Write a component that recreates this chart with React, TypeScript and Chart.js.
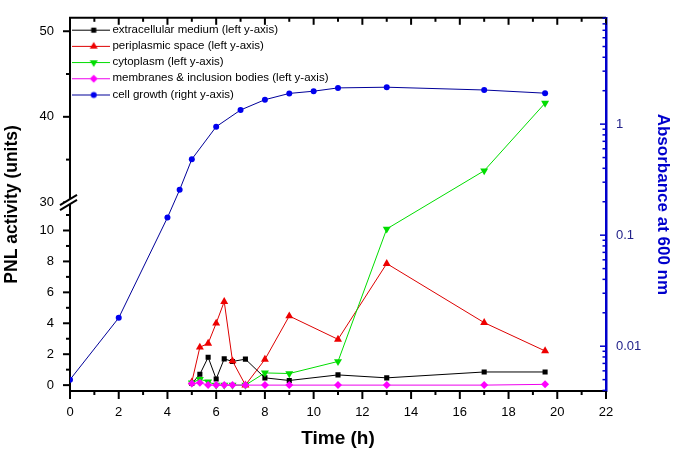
import { useEffect, useRef } from "react"
import { Chart, registerables, LinearScale } from "chart.js"
import { drawPoint } from "chart.js/helpers"

// ── data ─────────────────────────────────────────────────────
const FRACTION_TIME = [5, 5.33, 5.67, 6, 6.33, 6.67, 7.2, 8, 9, 11, 13, 17, 19.5]
const EXTRACELLULAR = [0.1, 0.7, 1.8, 0.4, 1.7, 1.53, 1.68, 0.47, 0.3, 0.66, 0.47, 0.85, 0.85]
const PERIPLASMIC = [0.2, 2.45, 2.7, 4.0, 5.4, 1.56, 0, 1.66, 4.47, 2.96, 7.86, 4.04, 2.21]
const CYTOPLASM = [0.15, 0.38, 0.22, 0, 0, 0, 0, 0.79, 0.75, 1.53, 10.1, 33.7, 41.6]
const MEMBRANES = [0.1, 0.15, 0, 0, 0, 0, 0, 0, 0, 0, 0, 0, 0.05]

const GROWTH_TIME = [0, 2, 4, 4.5, 5, 6, 7, 8, 9, 10, 11, 13, 17, 19.5]
const GROWTH_A600 = [0.005, 0.018, 0.144, 0.256, 0.483, 0.948, 1.34, 1.66, 1.89, 1.98, 2.12, 2.15, 2.03, 1.9]

const X_TICKS = [0, 2, 4, 6, 8, 10, 12, 14, 16, 18, 20, 22]
const LEFT_TICKS = [0, 2, 4, 6, 8, 10, 30, 40, 50]
const LEFT_MINOR = [1, 3, 5, 7, 9, 11, 35, 45]
const RIGHT_TICKS = [0.01, 0.1, 1]

// broken left axis: lower part [lowMin, lowMax] on the bottom `split` of the height
const LEFT_BREAK = { lowMin: -0.38, lowMax: 11.75, highMin: 29.88, highMax: 51.57, split: 0.5026 }

class BrokenLinearScale extends LinearScale {
  static id = "brokenLinear"
  static defaults = {}

  getPixelForValue(value) {
    const b = LEFT_BREAK
    let dec
    if (value <= b.lowMax) dec = ((value - b.lowMin) / (b.lowMax - b.lowMin)) * b.split
    else if (value >= b.highMin)
      dec = b.split + ((value - b.highMin) / (b.highMax - b.highMin)) * (1 - b.split)
    else dec = b.split
    return this.getPixelForDecimal(dec)
  }

  getValueForPixel(pixel) {
    const b = LEFT_BREAK
    const dec = this.getDecimalForPixel(pixel)
    if (dec <= b.split) return b.lowMin + (dec / b.split) * (b.lowMax - b.lowMin)
    return b.highMin + ((dec - b.split) / (1 - b.split)) * (b.highMax - b.highMin)
  }
}

Chart.register(...registerables, BrokenLinearScale)
Chart.defaults.font.family = "'Liberation Sans', Arial, sans-serif"

const SERIES = [
  { label: "extracellular medium (left y-axis)", t: FRACTION_TIME, v: EXTRACELLULAR, axis: "y" },
  { label: "periplasmic space (left y-axis)", t: FRACTION_TIME, v: PERIPLASMIC, axis: "y" },
  { label: "cytoplasm (left y-axis)", t: FRACTION_TIME, v: CYTOPLASM, axis: "y" },
  { label: "membranes & inclusion bodies (left y-axis)", t: FRACTION_TIME, v: MEMBRANES, axis: "y" },
  { label: "cell growth (right y-axis)", t: GROWTH_TIME, v: GROWTH_A600, axis: "y2" },
]

const STYLES = [
  { line: "#000000", mark: "#000000", shape: "rect", r: 3.6, rot: 0 },
  { line: "#dd0000", mark: "#ee0000", shape: "triangle", r: 4.6, rot: 0 },
  { line: "#00dd00", mark: "#00dd00", shape: "triangle", r: 4.6, rot: 180 },
  { line: "#ee00ee", mark: "#ff00ff", shape: "rectRot", r: 4, rot: 0 },
  { line: "#000099", mark: "#0000ee", shape: "circle", r: 3, rot: 0 },
]

function legendIcon(s) {
  const c = document.createElement("canvas")
  c.width = 38
  c.height = 12
  const g = c.getContext("2d")
  g.strokeStyle = s.line
  g.lineWidth = 1
  g.beginPath()
  g.moveTo(0, 6.5)
  g.lineTo(38, 6.5)
  g.stroke()
  g.fillStyle = s.mark
  drawPoint(g, { pointStyle: s.shape, radius: s.r, rotation: s.rot, borderWidth: 0 }, 22, 6.5)
  return c
}

// tick marks (inward on top/right, outward on left/bottom) and the axis break
const frameMarks = {
  id: "frameMarks",
  afterDraw(chart) {
    const { ctx, chartArea: a } = chart
    const sx = chart.scales.x
    const sy = chart.scales.y
    const sr = chart.scales.y2
    const seg = (x1, y1, x2, y2) => {
      ctx.beginPath()
      ctx.moveTo(x1, y1)
      ctx.lineTo(x2, y2)
      ctx.stroke()
    }
    ctx.save()
    ctx.strokeStyle = "#000"
    ctx.lineWidth = 2
    seg(a.left - 1, a.top, a.right, a.top)

    for (let i = 0; i < X_TICKS.length; i++) {
      const v = X_TICKS[i]
      const px = sx.getPixelForValue(v)
      seg(px, a.top, px, a.top + 7)
      seg(px, a.bottom, px, a.bottom + 8)
      if (i < X_TICKS.length - 1) {
        const mx = sx.getPixelForValue((v + X_TICKS[i + 1]) / 2)
        seg(mx, a.top, mx, a.top + 4)
        seg(mx, a.bottom, mx, a.bottom + 4)
      }
    }

    LEFT_TICKS.forEach((v) => {
      const py = sy.getPixelForValue(v)
      seg(a.left - 7, py, a.left, py)
    })
    LEFT_MINOR.forEach((v) => {
      const py = sy.getPixelForValue(v)
      seg(a.left - 4, py, a.left, py)
    })

    // right log axis, inward
    ctx.strokeStyle = "#0000cc"
    ctx.lineWidth = 1.5
    for (let e = -3; e <= 1; e++) {
      for (let k = 1; k <= 9; k++) {
        const v = k * Math.pow(10, e)
        if (v < sr.min || v > sr.max) continue
        const py = sr.getPixelForValue(v)
        seg(a.right - (k === 1 ? 6 : 3.5), py, a.right, py)
      }
    }

    // axis break on the left axis
    const by = sy.getPixelForDecimal(LEFT_BREAK.split)
    const L = a.left
    ctx.fillStyle = "#fff"
    ctx.beginPath()
    ctx.moveTo(L - 10, by + 1.6)
    ctx.lineTo(L + 7, by - 8.6)
    ctx.lineTo(L + 7, by - 3.6)
    ctx.lineTo(L - 10, by + 6.6)
    ctx.closePath()
    ctx.fill()
    ctx.strokeStyle = "#000"
    ctx.lineWidth = 2
    seg(L - 10, by + 1.6, L + 7, by - 8.6)
    seg(L - 10, by + 6.6, L + 7, by - 3.6)
    ctx.restore()
  },
}

export default function App() {
  const canvasRef = useRef<HTMLCanvasElement>(null)

  useEffect(() => {
    document.body.style.margin = "0"
    const canvas = canvasRef.current
    if (!canvas) return

    const icons = STYLES.map(legendIcon)

    const chart = new Chart(canvas, {
      type: "line",
      data: {
        datasets: SERIES.map((s, i) => ({
          label: s.label,
          data: s.t.map((t, j) => ({ x: t, y: s.v[j] })),
          yAxisID: s.axis,
          order: SERIES.length - i,
          borderColor: STYLES[i].line,
          borderWidth: 1,
          backgroundColor: STYLES[i].mark,
          pointBackgroundColor: STYLES[i].mark,
          pointBorderColor: STYLES[i].mark,
          pointBorderWidth: 0,
          pointStyle: STYLES[i].shape,
          pointRotation: STYLES[i].rot,
          pointRadius: STYLES[i].r,
          tension: 0,
          fill: false,
        })),
      },
      options: {
        animation: false,
        responsive: true,
        maintainAspectRatio: false,
        events: [],
        layout: { padding: { top: 13, left: 0, right: 0, bottom: 0 } },
        plugins: {
          tooltip: { enabled: false },
          legend: {
            position: "chartArea",
            align: "start",
            title: { display: true, text: "", font: { size: 1 }, padding: { top: 18, bottom: 0 } },
            labels: {
              usePointStyle: true,
              pointStyleWidth: 32,
              padding: 4.7,
              color: "#000",
              font: { size: 11.5 },
              generateLabels: () =>
                SERIES.map((s, i) => ({
                  text: s.label,
                  fillStyle: STYLES[i].mark,
                  strokeStyle: STYLES[i].mark,
                  lineWidth: 0,
                  pointStyle: icons[i],
                  hidden: false,
                  datasetIndex: i,
                  fontColor: "#000",
                })),
            },
          },
        },
        scales: {
          x: {
            type: "linear",
            position: "bottom",
            min: 0,
            max: 22,
            afterBuildTicks: (s) => {
              s.ticks = X_TICKS.map((value) => ({ value }))
            },
            afterFit: (s) => {
              s.height = 59
            },
            grid: { display: false, drawTicks: true, tickLength: 8 },
            border: { display: true, color: "#000", width: 2 },
            ticks: { padding: 6, color: "#000", font: { size: 13 }, maxRotation: 0, autoSkip: false },
            title: {
              display: true,
              text: "Time (h)",
              color: "#000",
              font: { size: 19, weight: "bold" },
              padding: { top: 0, bottom: 0 },
            },
          },
          y: {
            type: "brokenLinear",
            position: "left",
            min: LEFT_BREAK.lowMin,
            max: LEFT_BREAK.highMax,
            afterBuildTicks: (s) => {
              s.ticks = LEFT_TICKS.map((value) => ({ value }))
            },
            afterFit: (s) => {
              s.width = 70
            },
            grid: { display: false, drawTicks: true, tickLength: 7 },
            border: { display: true, color: "#000", width: 2 },
            ticks: { padding: 9, color: "#000", font: { size: 13 }, autoSkip: false, callback: (v) => String(v) },
            title: {
              display: true,
              text: "PNL activity (units)",
              color: "#000",
              font: { size: 17.5, weight: "bold" },
              padding: { top: 2, bottom: 0 },
            },
          },
          y2: {
            type: "logarithmic",
            position: "right",
            min: 0.00395,
            max: 9.07,
            afterBuildTicks: (s) => {
              s.ticks = RIGHT_TICKS.map((value) => ({ value }))
            },
            afterFit: (s) => {
              s.width = 68
            },
            grid: { display: false, drawTicks: false },
            border: { display: true, color: "#0000cc", width: 2.5 },
            ticks: { padding: 10, color: "#22228a", font: { size: 13 }, autoSkip: false, callback: (v) => String(v) },
            title: {
              display: true,
              text: "Absorbance at 600 nm",
              color: "#0000cc",
              font: { size: 17, weight: "bold" },
              padding: { top: 1, bottom: 0 },
            },
          },
        },
      },
      plugins: [frameMarks],
    })

    return () => chart.destroy()
  }, [])

  return (
    <div style={{ position: "relative", width: 674, height: 450 }}>
      <canvas ref={canvasRef} />
    </div>
  )
}
